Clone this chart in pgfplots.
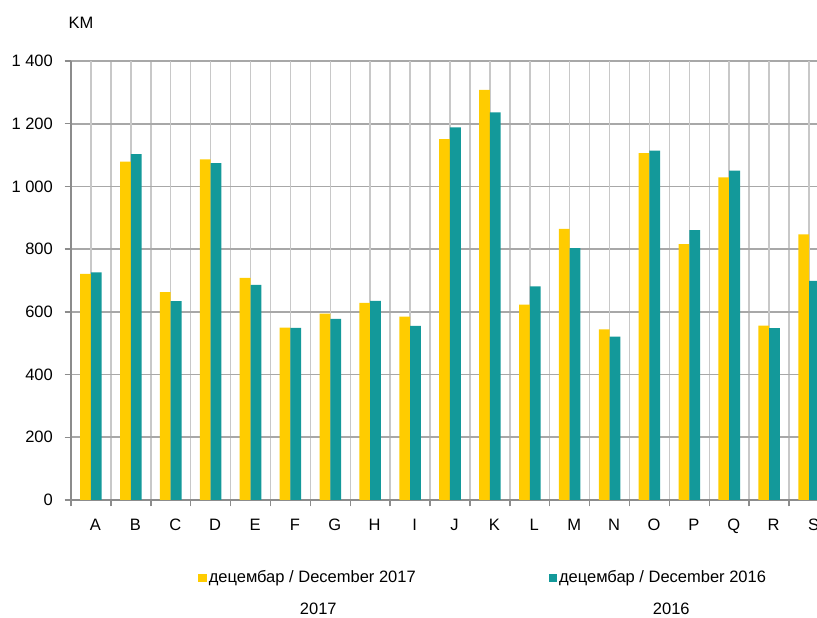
\documentclass[border=0pt]{standalone}
\usepackage{fontspec}
\setmainfont{Liberation Sans}
\usepackage{pgfplots}
\pgfplotsset{compat=1.18}
\definecolor{barYellow}{HTML}{FFCC00}
\definecolor{barTeal}{HTML}{13999A}
\definecolor{gridV}{HTML}{C8C8C8}
\definecolor{gridH}{HTML}{A8A8A8}
\definecolor{axisGray}{HTML}{8C8C8C}

\begin{document}
\fontsize{16.5}{19.8}\selectfont
\begin{tikzpicture}[x=1pt,y=1pt]
\useasboundingbox (0,0) rectangle (817,618);
\begin{axis}[
  at={(71pt,118pt)}, anchor=south west,
  scale only axis,
  width=746pt, height=439pt,
  ybar=0pt, bar width=0.27,
  xmin=-0.5, xmax=18.2,
  ymin=0, ymax=1400,
  axis x line*=bottom, axis y line*=left,
  axis line style={axisGray, line width=1.8pt, -},
  tick style={axisGray, line width=1.5pt},
  tick align=outside,
  major tick length=6.5pt,
  xtick={-0.5,0.5,...,17.5},
  xticklabels={},
  extra x ticks={0,1,...,18},
  extra x tick labels={A,B,C,D,E,F,G,H,I,J,K,L,M,N,O,P,Q,R,S},
  extra x tick style={major tick length=0pt, grid=major,
    xticklabel style={xshift=4.5pt, yshift=-13pt}},
  ytick={0,200,400,600,800,1000,1200,1400},
  yticklabels={0,200,400,600,800,1 000,1 200,1 400},
  yticklabel style={xshift=-6pt},
  xmajorgrids, ymajorgrids,
  x grid style={gridV, line width=1.5pt},
  y grid style={gridH, line width=1.6pt},
  legend columns=2,
  legend style={at={(axis description cs:0.1706,-0.177)}, anchor=west,
    draw=none, fill=none, inner sep=0pt, column sep=0pt,
    /tikz/every even column/.append style={column sep=131pt}},
  legend image code/.code={\fill[#1] (0pt,-4pt) rectangle (8.3pt,4pt);},
]
\addplot[fill=barYellow, draw=none] coordinates {
  (0,721) (1,1079) (2,663) (3,1086) (4,708) (5,550) (6,594) (7,629)
  (8,585) (9,1151) (10,1308) (11,623) (12,865) (13,544) (14,1106)
  (15,816) (16,1029) (17,556) (18,847)
};
\addplot[fill=barTeal, draw=none] coordinates {
  (0,726) (1,1103) (2,634) (3,1074) (4,686) (5,549) (6,578) (7,635)
  (8,555) (9,1188) (10,1236) (11,681) (12,803) (13,521) (14,1114)
  (15,861) (16,1050) (17,548) (18,699)
};
\legend{децембар / December 2017, децембар / December 2016}
\end{axis}
\node at (81,595) {KM};
\node at (318.3,9) {2017};
\node at (671.3,9) {2016};
\end{tikzpicture}
\end{document}
